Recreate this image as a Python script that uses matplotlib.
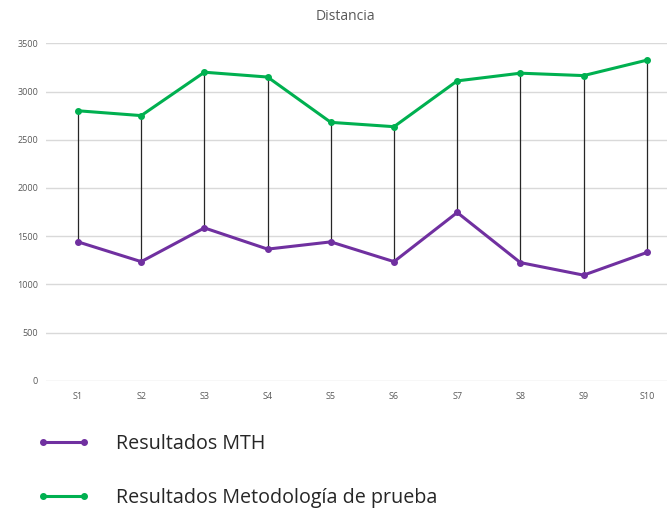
import matplotlib
matplotlib.use("Agg")
import matplotlib.pyplot as plt
import numpy as np

# Data
categories = ["S1", "S2", "S3", "S4", "S5", "S6", "S7", "S8", "S9", "S10"]
mth = [1440, 1235, 1585, 1365, 1440, 1235, 1745, 1225, 1095, 1330]
metodologia = [2800, 2750, 3200, 3150, 2680, 2635, 3110, 3190, 3165, 3325]
y_ticks = [0, 500, 1000, 1500, 2000, 2500, 3000, 3500]
series_labels = ["Resultados MTH", "Resultados Metodología de prueba"]

W, H = 667, 508
fig = plt.figure(figsize=(W / 100, H / 100), dpi=100)

# Plot area (extends a little beyond the right edge of the canvas)
left_px, right_px = 46.4, 678.4
bottom_px, top_px = 380.7, 43.3
ax = fig.add_axes([left_px / W, 1 - bottom_px / H,
                   (right_px - left_px) / W, (bottom_px - top_px) / H])

x = np.arange(len(categories))
ax.set_xlim(-0.5, len(categories) - 0.5)
ax.set_ylim(0, 3500)

grid_color = "#d9d9d9"
for v in y_ticks:
    ax.axhline(v, color=grid_color, lw=1.0, zorder=0)

# High-low lines joining the two series
ax.vlines(x, mth, metodologia, colors="#262626", lw=0.9, zorder=1)

purple = "#7030a0"
green = "#00b050"
l1, = ax.plot(x, mth, color=purple, lw=2.2, marker="o", ms=4,
              solid_joinstyle="round", zorder=3)
l2, = ax.plot(x, metodologia, color=green, lw=2.2, marker="o", ms=4,
              solid_joinstyle="round", zorder=3)

for s in ax.spines.values():
    s.set_visible(False)

tick_font = ["Liberation Sans Narrow", "Open Sans", "DejaVu Sans"]
ax.set_xticks(x)
ax.set_xticklabels(categories, fontsize=6.5, color="#595959", family=tick_font)
ax.set_yticks(y_ticks)
ax.set_yticklabels([str(v) for v in y_ticks], fontsize=6.5, color="#595959",
                   family=tick_font)
ax.tick_params(axis="x", length=0, pad=8)
ax.tick_params(axis="y", length=0, pad=6)

fig.text(345 / W, 1 - 17 / H, "Distancia", ha="center", va="center",
         fontsize=10, color="#595959", family=["Open Sans", "DejaVu Sans"])

# Legend below the chart; the handle line runs between its two markers,
# which sit 0.3 font sizes in from each end of the handle box.
leg_fs = 14.2
fs_px = leg_fs * 100 / 72
inset = 0.3 * fs_px
sample_start, sample_end, text_start = 43, 84, 116
handle_px = (sample_end - sample_start) + 2 * inset
leg = fig.legend([l1, l2], series_labels, loc="upper left",
                 bbox_to_anchor=((sample_start - inset) / W, 1 - 434 / H),
                 frameon=False, numpoints=2,
                 prop={"family": ["Open Sans", "DejaVu Sans"], "size": leg_fs},
                 handlelength=handle_px / fs_px,
                 handletextpad=(text_start - (sample_start - inset) - handle_px) / fs_px,
                 labelspacing=1.74, borderpad=0, borderaxespad=0)
for t in leg.get_texts():
    t.set_color("#262626")

fig.savefig("out.png", dpi=100)
